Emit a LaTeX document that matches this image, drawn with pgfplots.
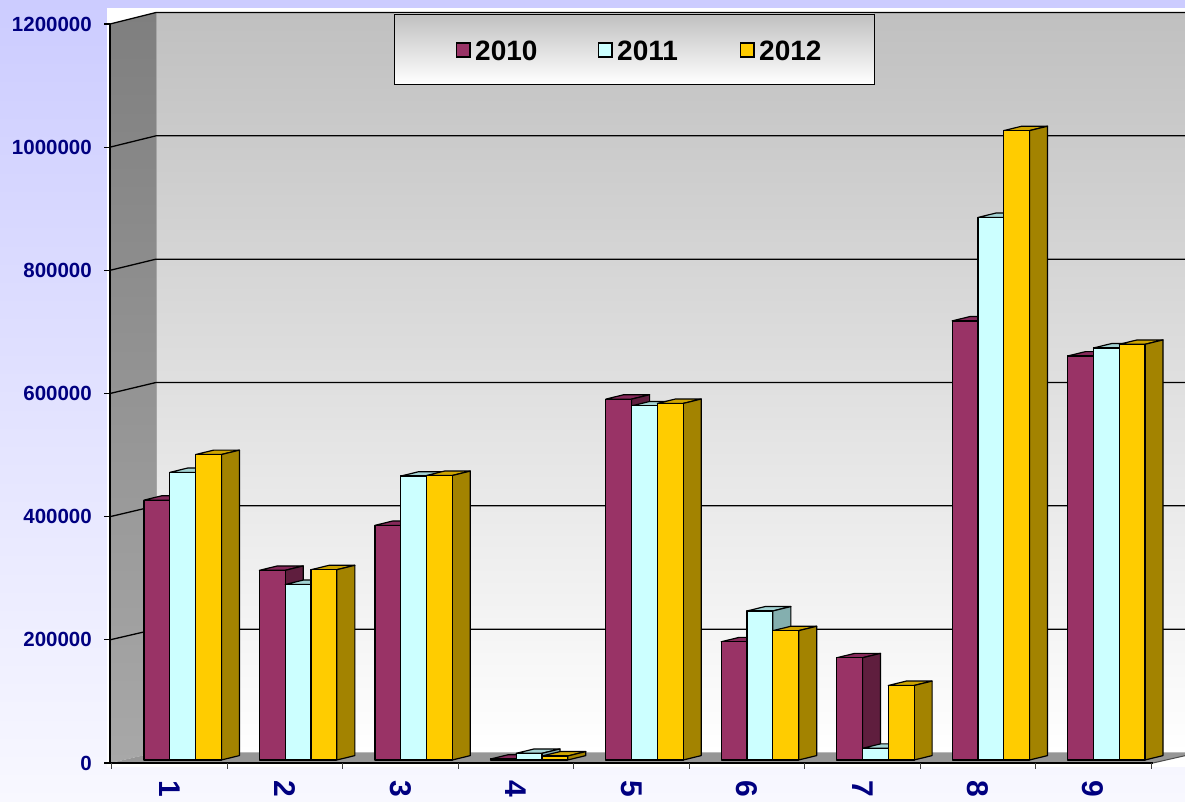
\documentclass[border=0pt]{standalone}
\usepackage{pgfplots}
\pgfplotsset{compat=1.18}
\usepackage{pgfplotstable}
\usepackage{fontspec}
\setmainfont{Liberation Sans}

\definecolor{navy}{HTML}{000080}
\definecolor{bgtop}{HTML}{CCCCFF}
\definecolor{bgbot}{HTML}{F8F8FF}
\definecolor{walltop}{HTML}{C0C0C0}
\definecolor{lwtop}{HTML}{7F7F7F}
\definecolor{lwbot}{HTML}{A8A8A8}
\definecolor{floorc}{HTML}{969696}
\definecolor{c10}{HTML}{993366}
\definecolor{s10}{HTML}{5F1E3E}
\definecolor{t10}{HTML}{86295A}
\definecolor{c11}{HTML}{CCFFFF}
\definecolor{s11}{HTML}{84AFAF}
\definecolor{t11}{HTML}{A3D3D3}
\definecolor{c12}{HTML}{FFCC00}
\definecolor{s12}{HTML}{A38300}
\definecolor{t12}{HTML}{CFA500}

\pgfdeclareplotmark{blank}{}

% category, values 2010, 2011, 2012
\pgfplotstableread{
cat a b c
1 422000 467000 496000
2 308000 285000 309000
3 381000 461000 462000
4 1500 10800 6500
5 586000 575000 579000
6 192000 242000 210000
7 166000 19000 121000
8 713000 881000 1022000
9 656000 669000 675000
}\datatable

% 3D bar drawn around the data point (front-top centre of the bar)
\newcommand{\barthreed}[3]{%
  \begingroup
  \pgfkeys{/pgf/fpu=true,/pgf/fpu/output format=fixed}%
  \pgfmathparse{\pgfplotspointmeta*739/1200000}%
  \xdef\barH{\pgfmathresult}%
  \endgroup
  \path[fill=#3, draw=black, line width=1.2pt, line join=round]
    (-12.9pt,3pt) -- (5.1pt,7.4pt) -- (30.9pt,7.4pt) -- (12.9pt,3pt) -- cycle;
  \path[fill=#2, draw=black, line width=1.2pt, line join=round]
    (12.9pt,3pt) -- (30.9pt,7.4pt) -- (30.9pt,{7.4pt-\barH pt}) -- (12.9pt,{3pt-\barH pt}) -- cycle;
  \path[fill=#1, draw=black, line width=1.2pt, line join=round]
    (-12.9pt,3pt) rectangle (12.9pt,{3pt-\barH pt});
}

\begin{document}
\begin{tikzpicture}
\useasboundingbox (0pt,0pt) rectangle (1185pt,802pt);
% chart area
\shade[top color=bgtop, bottom color=bgbot] (0pt,0pt) rectangle (1185pt,802pt);
% plot area
\fill[white] (107pt,35pt) rectangle (1185pt,794pt);
% back wall
\shade[top color=walltop, bottom color=white] (156pt,49.5pt) rectangle (1200pt,789.5pt);
% left wall
\shade[top color=lwtop, bottom color=lwbot] (110pt,39pt) -- (110pt,778pt) -- (156pt,789.5pt) -- (156pt,49.5pt) -- cycle;
\draw[black!35, line width=0.8pt] (156pt,49.5pt) -- (156pt,789.5pt);
% floor
\fill[floorc] (110pt,39pt) -- (156pt,49.5pt) -- (1199pt,49.5pt) -- (1153pt,39pt) -- cycle;
\draw[black!70, line width=1pt] (1153pt,39pt) -- (1199pt,49.5pt);
% gridlines on the walls
\foreach \i in {1,...,6}{
  \draw[black, line width=1.3pt] (110pt,{39pt+\i*123.1667pt}) -- (156pt,{49.5pt+\i*123.3333pt}) -- (1200pt,{49.5pt+\i*123.3333pt});
}

\begin{axis}[
  at={(110pt,39pt)}, anchor=south west,
  scale only axis, width=1043pt, height=739pt,
  xmin=0.4827, xmax=9.5173, ymin=0, ymax=1200000,
  clip=false,
  axis x line*=bottom, axis y line*=left,
  axis line style={black, line width=1.6pt, -},
  xtick={1,...,9}, xticklabels={1,2,3,4,5,6,7,8,9},
  xtick style={draw=none},
  extra x ticks={0.5,1.5,...,9.5},
  extra x tick labels={,,,,,,,,,},
  extra x tick style={xtick style={draw=black!75, line width=1pt}},
  ytick={0,200000,...,1200000},
  ytick style={black, line width=1.2pt},
  tick align=outside,
  major tick length=6pt,
  scaled y ticks=false,
  yticklabel style={font=\fontsize{20.5}{24}\selectfont\bfseries, text=navy,
    /pgf/number format/fixed, /pgf/number format/1000 sep={},
    /pgf/number format/assume math mode=true, inner sep=0pt, xshift=-12pt},
  xticklabel style={font=\fontsize{30}{32}\selectfont\bfseries, text=navy,
    inner sep=0pt, anchor=center, yshift=-20pt, rotate=-90},
]
\addplot[scatter, only marks, mark=blank, point meta=explicit symbolic,
  scatter/@pre marker code/.code={\barthreed{c10}{s10}{t10}},
  scatter/@post marker code/.code={}]
  table[x expr=\thisrow{cat}-0.111, y=a, meta=a] {\datatable};
\addplot[scatter, only marks, mark=blank, point meta=explicit symbolic,
  scatter/@pre marker code/.code={\barthreed{c11}{s11}{t11}},
  scatter/@post marker code/.code={}]
  table[x expr=\thisrow{cat}+0.1125, y=b, meta=b] {\datatable};
\addplot[scatter, only marks, mark=blank, point meta=explicit symbolic,
  scatter/@pre marker code/.code={\barthreed{c12}{s12}{t12}},
  scatter/@post marker code/.code={}]
  table[x expr=\thisrow{cat}+0.336, y=c, meta=c] {\datatable};
\end{axis}

% legend
\shadedraw[top color=walltop, bottom color=white, draw=black, line width=0.8pt] (394pt,718pt) rectangle (874pt,788pt);
\filldraw[fill=c10, draw=black, line width=1.8pt] (456.5pt,745pt) rectangle (470pt,759pt);
\filldraw[fill=c11, draw=black, line width=1.8pt] (598.5pt,745pt) rectangle (612pt,759pt);
\filldraw[fill=c12, draw=black, line width=1.8pt] (740.5pt,745pt) rectangle (754pt,759pt);
\node[anchor=base west, inner sep=0pt, font=\fontsize{28}{30}\selectfont\bfseries] at (475pt,741.5pt) {2010};
\node[anchor=base west, inner sep=0pt, font=\fontsize{28}{30}\selectfont\bfseries] at (617pt,741.5pt) {2011};
\node[anchor=base west, inner sep=0pt, font=\fontsize{28}{30}\selectfont\bfseries] at (759pt,741.5pt) {2012};
\end{tikzpicture}
\end{document}
